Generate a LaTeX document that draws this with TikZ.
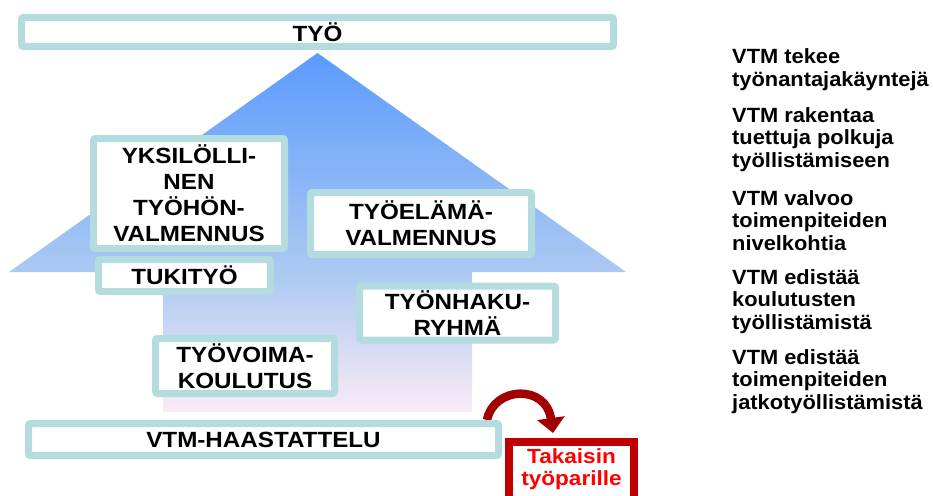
\documentclass[tikz,border=0pt]{standalone}
\usepackage{fontspec}
\setmainfont{Liberation Sans}
\newfontfamily\boxfont{Liberation Sans}[FakeStretch=1.1]
\newfontfamily\sidefont{Liberation Sans}[FakeStretch=1.06]
\usetikzlibrary{arrows.meta,backgrounds}
\definecolor{boxteal}{HTML}{B4DCDE}
\definecolor{pinkb}{HTML}{FAEBF6}
\definecolor{lblue}{HTML}{ADCAF2}
\definecolor{dblue}{HTML}{5B9BFE}
\definecolor{darkred}{HTML}{C00000}
\definecolor{arrowred}{HTML}{A20000}
\definecolor{brightred}{HTML}{FF0000}
\pgfdeclareverticalshading{arrowshade}{100bp}{color(0bp)=(pinkb); color(25bp)=(pinkb); color(44bp)=(lblue); color(75bp)=(dblue); color(100bp)=(dblue)}
\begin{document}
\begin{tikzpicture}[x=1pt,y=-1pt,
  box/.style={draw=boxteal, line width=7pt, fill=white, rounded corners=2pt, inner sep=0pt,
    font=\boxfont\bfseries\fontsize{22}{26}\selectfont, align=center},
  redbox/.style={draw=darkred, line width=8pt, fill=white, inner sep=0pt},
  redtext/.style={inner sep=0pt, text=brightred, align=center,
    font=\boxfont\bfseries\fontsize{20.5}{22.5}\selectfont},
  side/.style={anchor=west, inner sep=0pt, align=left, font=\sidefont\bfseries\fontsize{20.6}{22.5}\selectfont}]
\useasboundingbox (0,0) rectangle (933,495);
\shade[shading=arrowshade] (317.5,53) -- (626,272) -- (472,272) -- (472,412) -- (163,412) -- (163,272) -- (9,272) -- cycle;
\node[box, minimum width=592pt, minimum height=29pt] (tyo) at (317.5,32) {TYÖ};
\node[box, minimum width=191pt, minimum height=110pt] (yk) at (189,193.5) {YKSILÖLLI-\\NEN\\TYÖHÖN-\\VALMENNUS};
\node[box, minimum width=221pt, minimum height=62pt] (tel) at (421,223.5) {TYÖELÄMÄ-\\VALMENNUS};
\node[box, minimum width=172pt, minimum height=32pt] (tuki) at (184.5,275.5) {TUKITYÖ};
\node[box, minimum width=196pt, minimum height=54pt] (tha) at (457.5,313) {TYÖNHAKU-\\RYHMÄ};
\node[box, minimum width=179pt, minimum height=55pt] (tvo) at (245,366) {TYÖVOIMA-\\KOULUTUS};
\node[box, minimum width=470pt, minimum height=32pt] (vtm) at (263.5,439.5) {VTM-HAASTATTELU};
\node[redbox, minimum width=125pt, minimum height=66pt] (back) at (571.5,475) {};
\node[redtext] (backtxt) at (571.5,469) {Takaisin\\työparille};
\begin{scope}[on background layer]
\draw[arrowred, line width=8.5pt, -{Triangle[width=27pt,length=15pt]}]
  ([xshift=-15pt]vtm.north east) .. controls (494,386) and (546,384) .. ([xshift=-18.5pt,yshift=5pt]back.north);
\end{scope}
\node[side] (t1) at (732,69.5) {VTM tekee\\työnantajakäyntejä};
\node[side] (t2) at (732,139.5) {VTM rakentaa\\tuettuja polkuja\\työllistämiseen};
\node[side] (t3) at (732,220.5) {VTM valvoo\\toimenpiteiden\\nivelkohtia};
\node[side] (t4) at (732,301.5) {VTM edistää\\koulutusten\\työllistämistä};
\node[side] (t5) at (732,381.5) {VTM edistää\\toimenpiteiden\\jatkotyöllistämistä};
\end{tikzpicture}
\end{document}
